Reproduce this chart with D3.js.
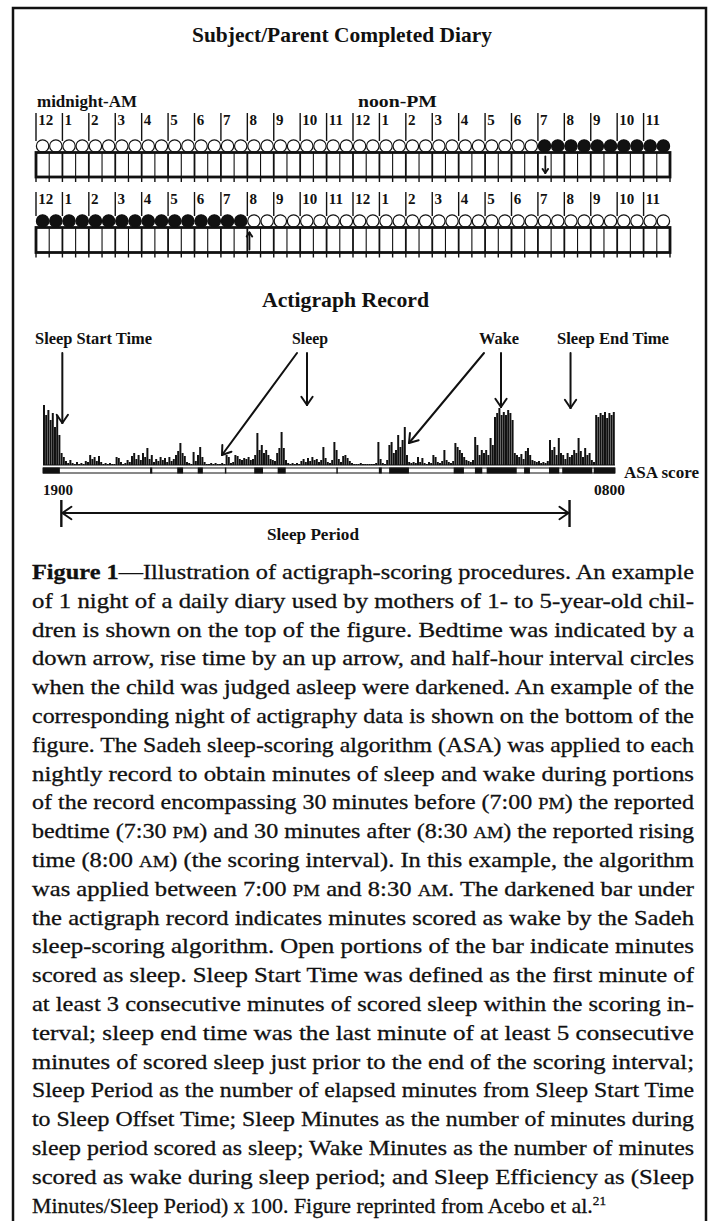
<!DOCTYPE html>
<html>
<head>
<meta charset="utf-8">
<script src="https://d3js.org/d3.v7.min.js"></script>
<style>
  body { margin: 0; background: #fff; }
  svg { display: block; }
  text { font-family: "Liberation Serif", "Times New Roman", serif; fill: #111; white-space: pre; }
  .caption text { stroke: #111; stroke-width: 0.3px; }
</style>
</head>
<body>
<svg id="fig" width="714" height="1221"></svg>
<script>
// ---- diary data ----
const hourLabels = ["12","1","2","3","4","5","6","7","8","9","10","11",
                    "12","1","2","3","4","5","6","7","8","9","10","11"];
// half-hour circles, 1 = darkened (asleep)
const day1Asleep = [0,0,0,0,0,0,0,0,0,0,0,0,0,0,0,0,0,0,0,0,0,0,0,0,
                    0,0,0,0,0,0,0,0,0,0,0,0,0,0,1,1,1,1,1,1,1,1,1,1];
const day2Asleep = [1,1,1,1,1,1,1,1,1,1,1,1,1,1,1,1,0,0,0,0,0,0,0,0,
                    0,0,0,0,0,0,0,0,0,0,0,0,0,0,0,0,0,0,0,0,0,0,0,0];
const bedtimeHour = 19.28;   // down arrow, day 1
const riseHour = 8.08;       // up arrow, day 2

// ---- actigraph data: activity counts per 3-minute epoch, 19:00 -> 08:00 ----
const activity = [
  300,250,275,225,260,190,250,150,60,40,
  20,10,25,10,5,15,5,10,5,20,
  15,50,30,40,20,45,15,5,10,5,
  10,5,5,40,35,15,5,10,25,15,
  45,60,30,50,25,60,40,85,30,50,
  15,30,20,40,25,35,15,40,20,30,
  50,70,110,60,45,15,10,5,65,20,
  50,90,40,15,5,5,10,5,10,5,
  5,10,5,50,40,10,15,50,45,30,
  25,35,30,40,25,30,50,160,75,100,
  60,75,50,30,25,20,60,85,165,85,
  25,10,5,10,5,10,5,20,30,15,
  35,20,40,25,30,15,25,90,35,15,
  10,25,115,75,30,15,45,50,35,20,
  10,5,5,5,10,5,5,5,5,5,
  5,10,115,30,10,5,25,100,115,60,
  75,150,90,125,190,50,15,10,15,10,
  40,15,35,10,5,15,10,50,40,15,
  10,20,75,25,15,10,20,110,90,75,
  60,40,25,20,15,25,140,100,50,75,
  60,75,50,135,100,240,260,285,250,265,
  250,275,260,225,60,50,40,55,30,70,
  85,50,25,20,15,20,10,15,10,20,
  125,75,90,50,135,60,50,30,60,40,
  50,75,60,135,70,40,85,50,60,25,
  15,250,240,260,250,265,235,260,250,265
];
const epochMin = 3;
// ASA scored wake, minutes after 19:00
const wakeStart = [0,146,183,211,248,288,320,400,458,472,560,589,605,656,690,708,751];
const wakeEnd   = [23,149,191,218,250,300,331,402,462,499,574,599,646,664,704,749,780];
const sleepStartMin = 25;
const sleepEndMin = 718;

const captionLines = [
  "**Figure 1**—Illustration of actigraph-scoring procedures. An example",
  "of 1 night of a daily diary used by mothers of 1- to 5-year-old chil-",
  "dren is shown on the top of the figure. Bedtime was indicated by a",
  "down arrow, rise time by an up arrow, and half-hour interval circles",
  "when the child was judged asleep were darkened. An example of the",
  "corresponding night of actigraphy data is shown on the bottom of the",
  "figure. The Sadeh sleep-scoring algorithm (ASA) was applied to each",
  "nightly record to obtain minutes of sleep and wake during portions",
  "of the record encompassing 30 minutes before (7:00 _PM_) the reported",
  "bedtime (7:30 _PM_) and 30 minutes after (8:30 _AM_) the reported rising",
  "time (8:00 _AM_) (the scoring interval). In this example, the algorithm",
  "was applied between 7:00 _PM_ and 8:30 _AM_. The darkened bar under",
  "the actigraph record indicates minutes scored as wake by the Sadeh",
  "sleep-scoring algorithm. Open portions of the bar indicate minutes",
  "scored as sleep. Sleep Start Time was defined as the first minute of",
  "at least 3 consecutive minutes of scored sleep within the scoring in-",
  "terval; sleep end time was the last minute of at least 5 consecutive",
  "minutes of scored sleep just prior to the end of the scoring interval;",
  "Sleep Period as the number of elapsed minutes from Sleep Start Time",
  "to Sleep Offset Time; Sleep Minutes as the number of minutes during",
  "sleep period scored as sleep; Wake Minutes as the number of minutes",
  "scored as wake during sleep period; and Sleep Efficiency as (Sleep",
  "Minutes/Sleep Period) x 100. Figure reprinted from Acebo et al.^21"
];

const svg = d3.select("#fig");
const ink = "#111";

// frame
svg.append("rect").attr("x", 13).attr("y", 8).attr("width", 693).attr("height", 1240)
   .attr("fill", "none").attr("stroke", ink).attr("stroke-width", 2.5);

function label(txt, x, y, size, len, anchor) {
  const t = svg.append("text").attr("x", x).attr("y", y)
     .attr("font-size", size).attr("font-weight", "bold")
     .attr("text-anchor", anchor || "start").text(txt);
  if (len) t.attr("textLength", len).attr("lengthAdjust", "spacingAndGlyphs");
  return t;
}

function arrow(x1, y1, x2, y2, head, w) {
  const a = Math.atan2(y2 - y1, x2 - x1);
  const g = svg.append("g").attr("stroke", ink).attr("stroke-width", w || 2)
     .attr("fill", "none").attr("stroke-linecap", "round");
  g.append("line").attr("x1", x1).attr("y1", y1).attr("x2", x2).attr("y2", y2);
  [-1, 1].forEach(s => {
    const b = a + Math.PI + s * 0.6;
    g.append("line").attr("x1", x2).attr("y1", y2)
     .attr("x2", x2 + head * Math.cos(b)).attr("y2", y2 + head * Math.sin(b));
  });
}

// ---- diary ----
label("Subject/Parent Completed Diary", 192, 42, 21, 300);
label("midnight-AM", 37, 107, 16.5, 100);
label("noon-PM", 358, 107, 16.5, 79);

const xh = d3.scaleLinear().domain([0, 24]).range([36, 670]);
const cellW = xh(0.5) - xh(0);

const rows = [
  {asleep: day1Asleep, labelY: 125, cy: 146, top: 152.5, bottom: 177, arrowHour: bedtimeHour, dir: 1},
  {asleep: day2Asleep, labelY: 204, cy: 221, top: 227.5, bottom: 252.5, arrowHour: riseHour, dir: -1}
];

rows.forEach(r => {
  const g = svg.append("g");
  // hour bars and numbers
  g.selectAll("line.hr").data(hourLabels).join("line").attr("class", "hr")
    .attr("x1", (d, i) => xh(i)).attr("x2", (d, i) => xh(i))
    .attr("y1", r.labelY - 12).attr("y2", r.cy - 5)
    .attr("stroke", ink).attr("stroke-width", 1.4);
  g.selectAll("text.hr").data(hourLabels).join("text").attr("class", "hr")
    .attr("x", (d, i) => xh(i) + 2.2).attr("y", r.labelY)
    .attr("font-size", 15).attr("font-weight", "bold").text(d => d);
  // half-hour circles
  g.selectAll("ellipse").data(r.asleep).join("ellipse")
    .attr("cx", (d, i) => xh((i + 0.5) / 2)).attr("cy", r.cy)
    .attr("rx", cellW / 2 - 0.4).attr("ry", 6.2)
    .attr("fill", d => d ? ink : "#fff").attr("stroke", ink).attr("stroke-width", 1.2);
  // boxes
  const cuts = d3.range(49);
  g.selectAll("line.cut").data(cuts.slice(1, 48)).join("line").attr("class", "cut")
    .attr("x1", d => xh(d / 2)).attr("x2", d => xh(d / 2))
    .attr("y1", r.top).attr("y2", r.bottom)
    .attr("stroke", ink).attr("stroke-width", d => d % 2 ? 1.1 : 1.8);
  g.selectAll("line.tick").data(cuts).join("line").attr("class", "tick")
    .attr("x1", d => xh(d / 2)).attr("x2", d => xh(d / 2))
    .attr("y1", r.bottom).attr("y2", r.bottom + 5)
    .attr("stroke", ink).attr("stroke-width", 1.4);
  g.append("rect").attr("x", xh(0)).attr("y", r.top)
    .attr("width", xh(24) - xh(0)).attr("height", r.bottom - r.top)
    .attr("fill", "none").attr("stroke", ink).attr("stroke-width", 2.8);
  // bedtime / rise arrow
  const ax = xh(r.arrowHour);
  if (r.dir > 0) arrow(ax, r.top + 4, ax, r.bottom - 4, 5, 1.8);
  else arrow(ax, r.bottom - 3, ax, r.top + 5, 5, 1.8);
});

// ---- actigraph ----
label("Actigraph Record", 262, 307, 21, 167);

const xm = d3.scaleLinear().domain([0, 780]).range([43, 615]);
const ya = d3.scaleLinear().domain([0, 300]).range([465, 405]);
const bw = xm(epochMin) - xm(0);

svg.append("g").selectAll("rect").data(activity).join("rect")
  .attr("x", (d, i) => xm(i * epochMin)).attr("width", bw * 0.9)
  .attr("y", d => ya(d)).attr("height", d => ya(0) - ya(d)).attr("fill", ink);
svg.append("line").attr("x1", xm(0)).attr("x2", xm(780)).attr("y1", ya(0)).attr("y2", ya(0))
  .attr("stroke", ink).attr("stroke-width", 1.2);

// ASA score bar
svg.append("rect").attr("x", xm(0)).attr("y", 468).attr("width", xm(780) - xm(0)).attr("height", 5)
  .attr("fill", "#fff").attr("stroke", ink).attr("stroke-width", 1);
svg.append("g").selectAll("rect").data(wakeStart).join("rect")
  .attr("x", d => xm(d)).attr("width", (d, i) => xm(wakeEnd[i]) - xm(d))
  .attr("y", 467.5).attr("height", 6).attr("fill", ink);
label("ASA score", 624, 478, 16.5, 75);
label("1900", 43, 495, 15, 30);
label("0800", 594, 495, 15, 31);

// annotations
label("Sleep Start Time", 35, 344, 16, 117);
label("Sleep", 292, 344, 16, 36);
label("Wake", 479, 344, 16, 40);
label("Sleep End Time", 557, 344, 16, 112);
arrow(xm(sleepStartMin) + 1, 353, xm(sleepStartMin) + 1, 423, 10);
arrow(307, 353, 307, 405, 10);
arrow(297, 353, 222, 455, 10);
arrow(501, 353, 501, 407, 10);
arrow(484, 353, 409, 443, 10);
arrow(xm(sleepEndMin) + 1, 353, xm(sleepEndMin) + 1, 408, 10);

// sleep period
const sx = xm(sleepStartMin), ex = xm(sleepEndMin);
[sx, ex].forEach(x => svg.append("line").attr("x1", x).attr("x2", x).attr("y1", 500).attr("y2", 527)
  .attr("stroke", ink).attr("stroke-width", 2.4));
arrow((sx + ex) / 2, 513, sx + 1, 513, 11, 2);
arrow((sx + ex) / 2, 513, ex - 1, 513, 11, 2);
label("Sleep Period", 267, 540, 16, 92);

// ---- caption ----
const cap = svg.append("g").attr("class", "caption");
captionLines.forEach((line, i) => {
  const t = cap.append("text").attr("x", 32).attr("y", 579 + i * 28.8).attr("font-size", 21.5);
  line.split(/(\*\*[^*]+\*\*|_[A-Z]+_|\^\d+)/).filter(s => s.length).forEach(s => {
    const sp = t.append("tspan");
    if (s.startsWith("**")) sp.attr("font-weight", "bold").text(s.slice(2, -2));
    else if (s.startsWith("_")) sp.attr("font-size", 16.5).text(s.slice(1, -1));
    else if (s.startsWith("^")) sp.attr("font-size", 13).attr("dy", -8).text(s.slice(1));
    else sp.text(s);
  });
  t.attr("textLength", i === captionLines.length - 1 ? 574 : 662)
   .attr("lengthAdjust", "spacingAndGlyphs");
});
</script>
</body>
</html>
